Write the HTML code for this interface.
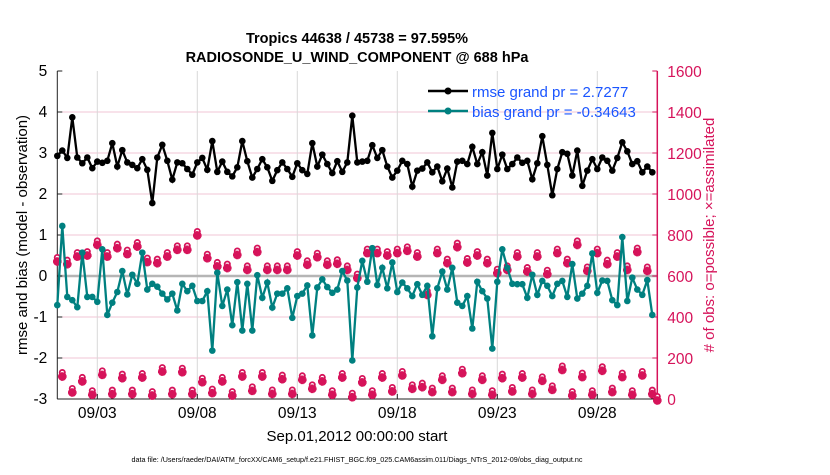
<!DOCTYPE html>
<html><head><meta charset="utf-8"><style>
body{margin:0;background:#fff;width:830px;height:470px;overflow:hidden;font-family:"Liberation Sans",sans-serif}
</style></head><body>
<svg id="chart" width="830" height="470" xmlns="http://www.w3.org/2000/svg" font-family="Liberation Sans, sans-serif">
<text x="357" y="43" text-anchor="middle" font-size="14.5" font-weight="bold">Tropics 44638 / 45738 = 97.595%</text>
<text x="357" y="62" text-anchor="middle" font-size="14.5" font-weight="bold">RADIOSONDE_U_WIND_COMPONENT @ 688 hPa</text>
<g id="grid"></g><g id="axes"></g><g id="series"></g>
<text transform="translate(27,235) rotate(-90)" text-anchor="middle" font-size="15">rmse and bias (model - observation)</text>
<text transform="translate(714,235) rotate(-90)" text-anchor="middle" font-size="15" fill="#d6135a"># of obs: o=possible; ×=assimilated</text>
<text x="357" y="441" text-anchor="middle" font-size="15">Sep.01,2012 00:00:00 start</text>
<text x="357" y="462" text-anchor="middle" font-size="7.2">data file: /Users/raeder/DAI/ATM_forcXX/CAM6_setup/f.e21.FHIST_BGC.f09_025.CAM6assim.011/Diags_NTrS_2012-09/obs_diag_output.nc</text>
<g>
<line x1="428" y1="91" x2="468" y2="91" stroke="#000" stroke-width="2.5"/><circle cx="448" cy="91" r="3.5" fill="#000"/>
<text x="472" y="97" font-size="15" fill="#1a55ff">rmse grand pr = 2.7277</text>
<line x1="428" y1="111" x2="468" y2="111" stroke="#008080" stroke-width="2.5"/><circle cx="448" cy="111" r="3.5" fill="#008080"/>
<text x="472" y="117" font-size="15" fill="#1a55ff">bias grand pr = -0.34643</text>
</g>
</svg>
<script>
const rmse=[2.93,3.06,2.88,3.87,2.89,2.75,2.89,2.63,2.79,2.76,
2.81,3.24,2.67,3.07,2.77,2.71,2.63,2.85,2.59,1.78,
2.89,3.2,2.81,2.35,2.77,2.75,2.61,2.47,2.77,2.88,
2.59,3.29,2.54,2.79,2.54,2.43,2.65,3.29,2.8,2.4,
2.61,2.85,2.65,2.32,2.58,2.77,2.61,2.42,2.75,2.58,
2.49,3.24,2.67,2.96,2.73,2.51,2.8,2.54,2.77,3.91,
2.77,2.79,2.81,3.19,2.88,3.07,2.67,2.4,2.57,2.81,
2.73,2.18,2.57,2.62,2.77,2.53,2.67,2.31,2.62,2.16,
2.79,2.81,2.73,3.15,2.73,3.02,2.45,3.49,2.61,2.96,
2.61,2.73,2.89,2.76,2.81,2.36,2.75,3.41,2.71,1.97,
2.61,3.02,2.98,2.45,3.06,2.2,2.57,2.85,2.61,2.89,
2.81,2.57,2.88,3.26,3.04,2.73,2.8,2.53,2.67,2.53];
const bias=[-0.71,1.22,-0.51,-0.59,-0.76,0.57,-0.51,-0.51,-0.63,0.65,
-0.95,-0.65,-0.39,0.12,-0.45,0.03,-0.19,0.57,-0.33,-0.19,
-0.26,-0.43,-0.57,-0.43,-0.84,-0.19,-0.37,-0.24,-0.61,-0.61,
-0.37,-1.82,0.08,-0.73,-0.33,-1.2,-0.15,-1.33,-0.19,-1.33,
0.02,-0.53,-0.16,-0.77,-0.43,-0.43,-0.3,-1.02,-0.49,-0.43,
-0.23,-1.45,-0.28,-0.08,-0.27,-0.41,-0.33,0.12,-0.11,-2.06,
-0.28,0.37,-0.14,0.68,-0.22,0.2,-0.3,0.33,-0.39,-0.16,
-0.3,-0.49,-0.2,-0.46,-0.24,-1.47,-0.3,0.11,-0.33,0.2,
-0.65,-0.73,-0.49,-1.28,-0.14,-0.37,-0.55,-1.77,-0.14,0.65,
0.2,-0.19,-0.2,-0.2,-0.53,0.03,-0.46,-0.12,-0.24,-0.49,
-0.19,-0.12,-0.51,0.29,-0.55,-0.43,-0.24,0.55,-0.41,-0.11,
-0.12,-0.59,-0.71,0.95,-0.61,-0.04,-0.33,-0.46,-0.1,-0.95];
const obsPossible=[678,117,665,39,702,93,707,28,759,125,702,31,743,109,714,31,751,112,675,24,
670,141,702,31,735,138,735,31,805,89,694,36,654,93,646,24,710,117,637,47,
724,117,637,32,637,104,637,32,707,101,662,57,699,93,662,28,667,112,637,16,
597,88,719,28,719,112,707,44,719,122,730,57,702,65,515,41,719,101,670,41,
748,133,673,32,707,101,670,28,621,109,637,44,702,112,629,32,702,96,616,52,
719,149,670,24,759,114,632,28,719,145,665,41,702,114,637,28,724,122,632,31,0];
const obsAssim=[678,117,665,39,702,93,707,28,759,125,702,31,743,109,714,31,751,112,675,24,
670,141,702,31,735,138,735,31,805,89,694,36,654,93,646,24,710,117,637,47,
724,117,637,32,637,104,637,32,707,101,662,57,699,93,662,28,667,112,637,16,
597,88,719,28,719,112,707,44,719,122,730,57,702,65,515,41,719,101,670,41,
748,133,673,32,707,101,670,28,621,109,637,44,702,112,629,32,702,96,616,52,
719,149,670,24,759,114,632,28,719,145,665,41,702,114,637,28,724,122,632,31,0];
const yTicks=[-3,-2,-1,0,1,2,3,4,5];
const y2Ticks=[0,200,400,600,800,1000,1200,1400,1600];
const xTickDays=[2,7,12,17,22,27];
const xTickLabels=["09/03","09/08","09/13","09/18","09/23","09/28"];
const stepsPerDay=4;

const L=57.3,R=657.3,T=71,B=399;
const xS=d=>L+(R-L)*d/30;
const yS=v=>B-(B-T)*(v+3)/8;
const y2S=v=>B-(B-T)*v/1600;
const NS="http://www.w3.org/2000/svg";
function mk(tag,attrs,parent){const e=document.createElementNS(NS,tag);for(const k in attrs)e.setAttribute(k,attrs[k]);parent.appendChild(e);return e;}
const grid=document.getElementById('grid'),axes=document.getElementById('axes'),ser=document.getElementById('series');
const MAG="#d6135a",TEAL="#008080";
yTicks.forEach(v=>{
  if(v>-3&&v<5){const g=mk('line',{x1:L,x2:R,y1:yS(v),y2:yS(v),stroke:'#f2c6d6','stroke-width':1},grid);
  
  }
  const t=mk('text',{x:L-10,y:yS(v)+5,'text-anchor':'end','font-size':15.5},axes);t.textContent=v;
  
  
  mk('line',{x1:L,x2:L+5,y1:yS(v),y2:yS(v),stroke:'#222'},axes);
});
y2Ticks.forEach(v=>{
  const t=mk('text',{x:R+10,y:y2S(v)+6,'font-size':15.5,fill:MAG},axes);t.textContent=v;
  
  
  mk('line',{x1:R-5,x2:R,y1:y2S(v),y2:y2S(v),stroke:MAG},axes);
});
xTickDays.forEach((d,i)=>{
  const g=mk('line',{x1:xS(d),x2:xS(d),y1:T,y2:B,stroke:'#d8d8d8'},grid);
  
  
  mk('line',{x1:xS(d),x2:xS(d),y1:B,y2:B-5,stroke:'#222'},axes);
  const t=mk('text',{x:xS(d),y:B+19,'text-anchor':'middle','font-size':15.5},axes);t.textContent=xTickLabels[i];
  
  
});
const z=mk('line',{x1:L,x2:R,y1:yS(0),y2:yS(0),stroke:'#b5b5b5','stroke-width':2.5},grid);


const ax1=mk('line',{x1:L,x2:L,y1:T,y2:B,stroke:'#222'},axes);


const ax2=mk('line',{x1:L,x2:R,y1:B,y2:B,stroke:'#222'},axes);


const ax3=mk('line',{x1:R,x2:R,y1:T,y2:B,stroke:MAG,'stroke-width':1.5},axes);



// obs markers
obsPossible.forEach((v,i)=>{
  const c=mk('circle',{cx:xS(i/stepsPerDay),cy:y2S(v)-2.5,r:2.6,fill:'#fff',stroke:MAG,'stroke-width':1.8},ser);
  
  
});
obsAssim.forEach((v,i)=>{
  const x=xS(i/stepsPerDay),y=y2S(v)+1.5,s=4.3;
  const p=mk('path',{d:`M${x-s},${y}H${x+s}M${x},${y-s}V${y+s}M${x-3},${y-3}L${x+3},${y+3}M${x-3},${y+3}L${x+3},${y-3}`,stroke:MAG,'stroke-width':2.8},ser);
  
  
});
function line(arr,col,name){
  const pts=arr.map((v,i)=>xS(i/stepsPerDay)+','+yS(v)).join(' ');
  const pl=mk('polyline',{points:pts,fill:'none',stroke:col,'stroke-width':2.3},ser);
  
  
  arr.forEach((v,i)=>{const c=mk('circle',{cx:xS(i/stepsPerDay),cy:yS(v),r:3.3,fill:col},ser);
    
    });
}
line(rmse,'#000','rmse');
line(bias,TEAL,'bias');
</script>
</body></html>
